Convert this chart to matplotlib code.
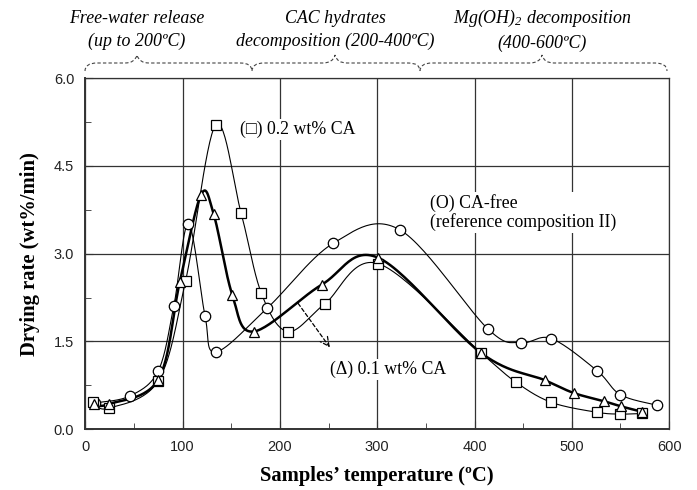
import numpy as np
import matplotlib.pyplot as plt
from matplotlib.path import Path
from matplotlib.patches import PathPatch

# CA-free (circles)
t_free = [10, 46, 75, 91, 106, 123, 134, 187, 255, 323, 414, 448, 479, 526, 550, 588]
r_free = [0.45, 0.57, 1.00, 2.11, 3.51, 1.94, 1.32, 2.07, 3.18, 3.41, 1.71, 1.48, 1.55, 1.00, 0.59, 0.41]

# 0.1 wt% CA (triangles)
t_01 = [9, 24, 75, 97, 119, 132, 151, 173, 243, 301, 407, 472, 502, 533, 551, 572]
r_01 = [0.43, 0.43, 0.85, 2.51, 4.01, 3.67, 2.30, 1.67, 2.47, 2.93, 1.30, 0.84, 0.62, 0.48, 0.39, 0.30]

# 0.2 wt% CA (squares)
t_02 = [8, 24, 75, 103, 134, 160, 181, 208, 246, 301, 407, 443, 479, 526, 550, 572]
r_02 = [0.46, 0.36, 0.83, 2.53, 5.20, 3.70, 2.32, 1.67, 2.14, 2.83, 1.30, 0.80, 0.46, 0.29, 0.26, 0.27]

stages = ['Free-water release\n(up to 200ºC)',
          'CAC hydrates\ndecomposition (200-400ºC)',
          'Mg(OH)$_2$ decomposition\n(400-600ºC)']

serif = 'Liberation Serif'
sans = 'Liberation Sans'
plt.rcParams['mathtext.fontset'] = 'custom'
plt.rcParams['mathtext.rm'] = 'Liberation Serif:italic'
plt.rcParams['mathtext.it'] = 'Liberation Serif:italic'

W, H = 697.0, 490.0


def smooth(x, y, n=30):
    # excel-like smoothed line (bezier through the points)
    p = np.column_stack([np.asarray(x, float), np.asarray(y, float)])
    pts = [p[0]]
    for i in range(len(p) - 1):
        p0 = p[i - 1] if i > 0 else p[i]
        p1 = p[i]
        p2 = p[i + 1]
        p3 = p[i + 2] if i + 2 < len(p) else p[i + 1]
        c1 = p1 + (p2 - p0) / 6.0
        c2 = p2 - (p3 - p1) / 6.0
        s = np.linspace(0, 1, n)[1:, None]
        seg = ((1 - s) ** 3) * p1 + 3 * ((1 - s) ** 2) * s * c1 + 3 * (1 - s) * s ** 2 * c2 + s ** 3 * p2
        pts.extend(seg)
    pts = np.array(pts)
    return pts[:, 0], pts[:, 1]


def brace(fig, x0, x1, xm, y, up, down, r=12):
    # horizontal curly brace, pixel coords (top-left origin)
    v = [(x0, y + down), (x0, y), (x0 + r, y),
         (xm - r, y), (xm - 2, y), (xm, y - up),
         (xm + 2, y), (xm + r, y),
         (x1 - r, y), (x1, y), (x1, y + down)]
    c = [Path.MOVETO, Path.CURVE3, Path.CURVE3,
         Path.LINETO, Path.CURVE3, Path.CURVE3,
         Path.CURVE3, Path.CURVE3,
         Path.LINETO, Path.CURVE3, Path.CURVE3]
    v = [(a / W, 1 - b / H) for a, b in v]
    patch = PathPatch(Path(v, c), transform=fig.transFigure, fill=False,
                      ls=(0, (3, 2)), lw=0.8, color='#444444', clip_on=False)
    fig.add_artist(patch)


fig = plt.figure(figsize=(6.97, 4.90), dpi=100)
ax = fig.add_axes([0.1224, 0.1239, 0.8376, 0.7169])

ax.set_xlim(0, 600)
ax.set_ylim(0, 6.0)
ax.set_xticks(np.arange(0, 601, 100))
ax.set_xticks(np.arange(0, 601, 50), minor=True)
ax.set_yticks(np.arange(0, 6.01, 1.5))
ax.set_yticks(np.arange(0, 6.01, 0.75), minor=True)
ax.set_yticklabels(['%.1f' % v for v in np.arange(0, 6.01, 1.5)])
ax.grid(True, which='major', color='#333333', lw=0.9)
ax.tick_params(which='both', direction='in', color='#333333')
ax.tick_params(which='major', length=6, labelsize=10.5, pad=8)
ax.tick_params(which='minor', length=4)
for lab in ax.get_xticklabels() + ax.get_yticklabels():
    lab.set_fontfamily(sans)
    lab.set_color('#222222')
for sp in ax.spines.values():
    sp.set_color('#333333')
    sp.set_linewidth(0.9)
ax.spines['left'].set_linewidth(1.4)
ax.spines['bottom'].set_linewidth(1.4)

mk = dict(ls='none', mfc='white', mec='black', mew=0.9, ms=7.5, zorder=4)

xs, ys = smooth(t_free, r_free)
ax.plot(xs, ys, color='black', lw=0.8, zorder=3)
ax.plot(t_free, r_free, marker='o', **mk)

xs, ys = smooth(t_02, r_02)
ax.plot(xs, ys, color='black', lw=0.8, zorder=3)
ax.plot(t_02, r_02, marker='s', **mk)

xs, ys = smooth(t_01, r_01)
ax.plot(xs, ys, color='black', lw=1.8, zorder=3)
ax.plot(t_01, r_01, marker='^', **mk)

bb = dict(facecolor='white', edgecolor='none', pad=1.5)
ax.text(159, 5.12, '(\u25a1) 0.2 wt% CA', fontsize=12.8, family=[serif, 'DejaVu Sans'],
        va='center', ha='left', bbox=bb, zorder=5)
ax.text(354, 3.70, '(O) CA-free\n(reference composition II)', fontsize=12.8, family=serif,
        va='center', ha='left', bbox=bb, linespacing=1.1, zorder=5)
ax.text(251, 1.02, '(\u0394) 0.1 wt% CA', fontsize=12.8, family=serif,
        va='center', ha='left', bbox=bb, zorder=5)
ax.annotate('', xy=(253, 1.36), xytext=(217, 2.19),
            arrowprops=dict(arrowstyle='->', ls=(0, (3, 2)), lw=0.9, color='black',
                            mutation_scale=16), zorder=5)

ax.set_xlabel('Samples\u2019 temperature (ºC)', fontsize=14.9, family=serif, fontweight='bold', labelpad=8)
ax.set_ylabel('Drying rate (wt%/min)', fontsize=14.9, family=serif, fontweight='bold', labelpad=10)

# stage headers with dashed braces
cx = [137, 335, 542]
for c, s in zip(cx, stages):
    fig.text(c / W, 1 - 30 / H, s, ha='center', va='center', fontsize=12.9,
             family=serif, style='italic', linespacing=1.4)
edges = [85, 252, 420, 667]
for i in range(3):
    brace(fig, edges[i], edges[i + 1], cx[i], 63, 8, 8)

fig.savefig('out.png', dpi=100)
